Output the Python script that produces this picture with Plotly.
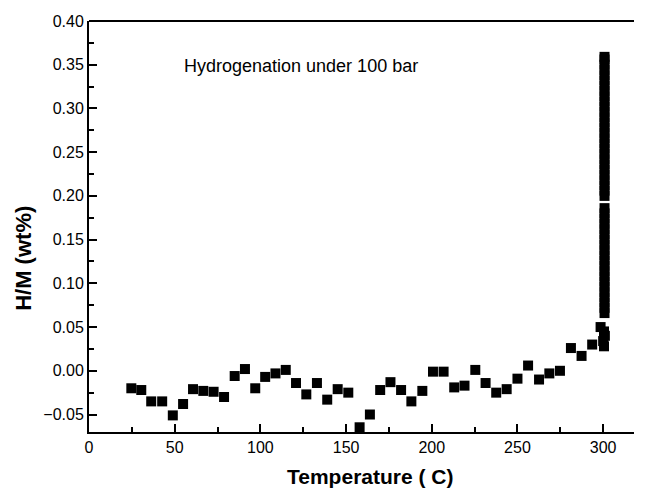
import plotly.graph_objects as go

# Temperature sweep data (scattered points)
temp = [24.7, 30.5, 36.3, 42.7, 48.9, 54.9, 60.7, 66.7, 72.7, 78.8,
        85.0, 91.0, 97.0, 102.8, 108.8, 114.8, 120.8, 126.8, 133.0, 139.0,
        145.1, 151.3, 157.9, 163.9, 169.9, 175.9, 182.1, 188.1, 194.5, 200.7,
        206.9, 213.1, 219.1, 225.4, 231.4, 237.6, 243.7, 250.0, 256.2, 262.6,
        268.6, 274.8, 281.2, 287.4, 293.6,
        298.5, 300.5, 301.0, 300.0, 300.5]
hm = [-0.020, -0.022, -0.035, -0.035, -0.051, -0.038, -0.021, -0.023, -0.024, -0.030,
      -0.006, 0.002, -0.020, -0.007, -0.003, 0.001, -0.014, -0.027, -0.014, -0.033,
      -0.021, -0.025, -0.0646, -0.050, -0.022, -0.013, -0.022, -0.035, -0.023, -0.001,
      -0.001, -0.019, -0.017, 0.001, -0.014, -0.025, -0.021, -0.009, 0.006, -0.010,
      -0.003, 0.000, 0.026, 0.017, 0.030,
      0.050, 0.045, 0.040, 0.034, 0.028]

# Isothermal hold at ~300 C (dense vertical column)
hold_temp = 300.8
hold_hm = [0.066, 0.072, 0.078, 0.084, 0.090, 0.096, 0.102, 0.108, 0.114, 0.120,
           0.126, 0.132, 0.138, 0.144, 0.150, 0.156, 0.162, 0.168, 0.174, 0.180,
           0.186,
           0.200, 0.206, 0.212, 0.218, 0.224, 0.230, 0.236, 0.242, 0.248, 0.254,
           0.260, 0.266, 0.272, 0.278, 0.284, 0.290, 0.296, 0.302, 0.308, 0.314,
           0.320, 0.326, 0.332, 0.338, 0.344, 0.350, 0.356, 0.359]

FONT = "Arial, Liberation Sans, sans-serif"

fig = go.Figure()
fig.add_trace(go.Scatter(
    x=temp, y=hm, mode="markers",
    marker=dict(symbol="square", size=10, color="black", line=dict(width=0)),
    showlegend=False))
fig.add_trace(go.Scatter(
    x=[hold_temp] * len(hold_hm), y=hold_hm, mode="markers",
    marker=dict(symbol="square", size=10, color="black", line=dict(width=0)),
    showlegend=False))

fig.add_annotation(x=123.7, y=0.348, xref="x", yref="y",
                   text="Hydrogenation under 100 bar", showarrow=False,
                   font=dict(family=FONT, size=18, color="black"))

# axis titles as annotations for exact placement
fig.add_annotation(x=0.5, y=-0.108, xref="paper", yref="paper", xshift=8,
                   text="<b>Temperature ( C)</b>", showarrow=False,
                   xanchor="center", yanchor="middle",
                   font=dict(family=FONT, size=21, color="black"))
fig.add_annotation(x=-0.1217, y=0.423, xref="paper", yref="paper",
                   text="<b>H/M (wt%)</b>", showarrow=False, textangle=-90,
                   xanchor="center", yanchor="middle",
                   font=dict(family=FONT, size=22, color="black"))

fig.add_shape(type="line", xref="paper", yref="paper", x0=0, x1=1, y0=1, y1=1,
              line=dict(color="black", width=2))

fig.update_xaxes(
    range=[0, 318], tickmode="linear", tick0=0, dtick=50,
    ticks="inside", ticklen=8, tickwidth=1.5, tickcolor="black",
    minor=dict(ticks="inside", ticklen=5, tickwidth=1.5, tickcolor="black", dtick=25),
    showline=True, linecolor="black", linewidth=2,
    showgrid=False, zeroline=False,
    tickfont=dict(family=FONT, size=16, color="black"))
fig.update_yaxes(
    range=[-0.07, 0.40], tickmode="linear", tick0=0, dtick=0.05, tickformat=".2f",
    ticks="inside", ticklen=8, tickwidth=1.5, tickcolor="black",
    minor=dict(ticks="inside", ticklen=5, tickwidth=1.5, tickcolor="black", dtick=0.025),
    showline=True, linecolor="black", linewidth=2,
    showgrid=False, zeroline=False,
    tickfont=dict(family=FONT, size=16, color="black"))

fig.update_layout(
    width=646, height=498,
    margin=dict(l=89, r=12, t=21, b=66),
    plot_bgcolor="white", paper_bgcolor="white")

fig.write_html("out.html")
